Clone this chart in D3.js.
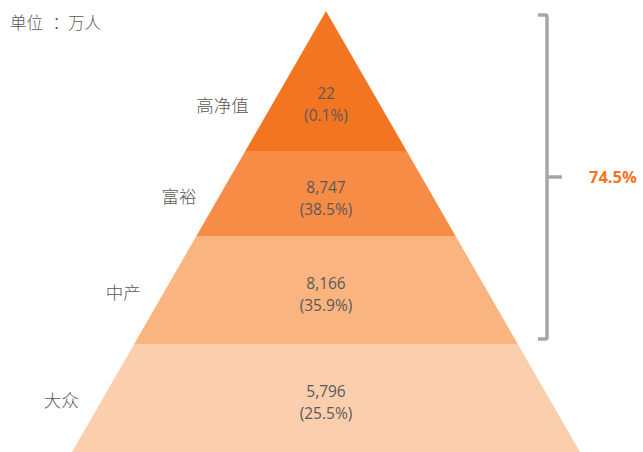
<!DOCTYPE html>
<html>
<head>
<meta charset="utf-8">
<script src="https://cdn.jsdelivr.net/npm/d3@7"></script>
<style>
  html, body { margin: 0; padding: 0; background: #fff; }
  svg { display: block; }
  text { font-family: "Open Sans", "Noto Sans CJK SC", sans-serif; }
</style>
</head>
<body>
<svg id="chart" width="643" height="452"></svg>
<script>
// ---- data ----
const categories = ["高净值", "富裕", "中产", "大众"];
const values = [22, 8747, 8166, 5796];
const shares = ["0.1%", "38.5%", "35.9%", "25.5%"];
const colors = ["#f47521", "#f78c47", "#f9b47f", "#fbcead"];
const unitParts = ["单位", "：", "万人"];
const bracketLabel = "74.5%";
const bracketLayers = 3; // top three layers

// ---- layout ----
const W = 643, H = 452;
const apex = { x: 326, y: 11 };
const baseY = 452, baseHalf = 254;
// relative boundaries of layers along pyramid height (0 = apex, 1 = base)
const bounds = [0, 0.3175, 0.5102, 0.7551, 1];

const svg = d3.select("#chart");
const y = d3.scaleLinear().domain([0, 1]).range([apex.y, baseY]);
const half = d3.scaleLinear().domain([0, 1]).range([0, baseHalf]);

const layers = categories.map((c, i) => ({
  cat: c, value: values[i], share: shares[i], color: colors[i],
  t0: bounds[i], t1: bounds[i + 1]
}));

svg.selectAll("path.layer").data(layers).join("path")
  .attr("class", "layer")
  .attr("fill", d => d.color)
  .attr("d", d => {
    const p = d3.path();
    const y0 = y(d.t0), y1 = y(d.t1);
    p.moveTo(apex.x - half(d.t0), y0);
    p.lineTo(apex.x + half(d.t0), y0);
    p.lineTo(apex.x + half(d.t1), y1);
    p.lineTo(apex.x - half(d.t1), y1);
    p.closePath();
    return p.toString();
  });

// baseline of first value line
function firstBase(d, i) {
  if (i === 0) return y(d.t0) + (y(d.t1) - y(d.t0)) * 0.63;
  return (y(d.t0) + y(d.t1)) / 2 - 0.5;
}

const fmt = d3.format(",");
const vg = svg.selectAll("g.val").data(layers).join("g").attr("class", "val");
vg.append("text")
  .attr("x", apex.x).attr("y", (d, i) => firstBase(d, i))
  .attr("text-anchor", "middle").attr("font-size", 15.5).attr("fill", "#5a5a5a")
  .text(d => fmt(d.value));
vg.append("text")
  .attr("x", apex.x).attr("y", (d, i) => firstBase(d, i) + 22)
  .attr("text-anchor", "middle").attr("font-size", 15.5).attr("fill", "#5a5a5a")
  .text(d => "(" + d.share + ")");

// category labels left of the pyramid edge
svg.selectAll("text.cat").data(layers).join("text")
  .attr("class", "cat")
  .attr("font-family", "'Noto Sans CJK SC', sans-serif")
  .attr("font-size", 17.5).attr("font-weight", 300).attr("fill", "#595959")
  .attr("text-anchor", "end").attr("dominant-baseline", "central")
  .each(function (d, i) {
    const cy = firstBase(d, i) + (i === 0 ? 6 : 3);
    const t = y.invert(cy);
    d3.select(this).attr("x", apex.x - half(t) - 23).attr("y", cy);
  })
  .text(d => d.cat);

// unit
const unit = svg.append("text")
  .attr("x", 10).attr("y", 22)
  .attr("font-family", "'Noto Sans CJK JP', 'Noto Sans CJK SC', sans-serif")
  .attr("font-size", 16.5).attr("font-weight", 300).attr("fill", "#595959")
  .attr("dominant-baseline", "central");
unit.selectAll("tspan").data(unitParts).join("tspan")
  .attr("dx", (d, i) => i === 1 ? 9.5 : (i === 2 ? -1 : 0))
  .text(d => d);

// bracket
const bTop = y(bounds[0]) + 4, bBot = y(bounds[bracketLayers]) - 5;
const bx = 547, bMid = (bTop + bBot) / 2;
const bp = d3.path();
bp.moveTo(538, bTop);
bp.lineTo(bx - 2, bTop);
bp.quadraticCurveTo(bx, bTop, bx, bTop + 2);
bp.lineTo(bx, bBot - 2);
bp.quadraticCurveTo(bx, bBot, bx - 2, bBot);
bp.lineTo(538, bBot);
bp.moveTo(bx, bMid);
bp.lineTo(562, bMid);
svg.append("path").attr("d", bp.toString())
  .attr("fill", "none").attr("stroke", "#a6a6a8").attr("stroke-width", 3.5);

svg.append("text")
  .attr("x", 589).attr("y", bMid)
  .attr("dominant-baseline", "central")
  .attr("font-size", 16.5).attr("font-weight", "bold").attr("fill", "#f47521")
  .text(bracketLabel);
</script>
</body>
</html>
